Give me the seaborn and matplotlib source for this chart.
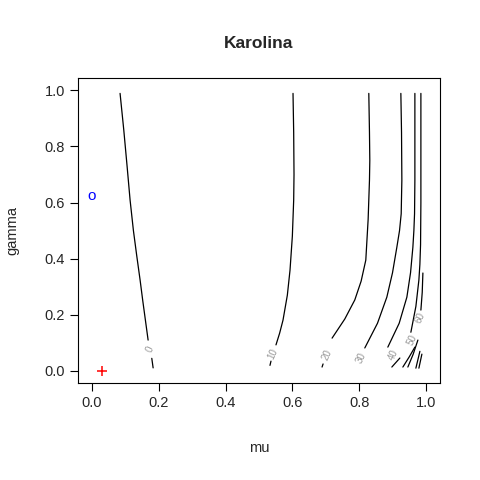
import numpy as np
import pandas as pd
import seaborn as sns
import matplotlib
matplotlib.use("Agg")
import matplotlib.pyplot as plt

# contour lines: level -> segments of (mu, gamma)
contour_mu = {
    "0":  [[0.084, 0.095, 0.105, 0.114, 0.124, 0.134, 0.144, 0.152, 0.160, 0.168], [0.179, 0.183]],
    "10": [[0.602, 0.604, 0.605, 0.604, 0.600, 0.593, 0.585, 0.572, 0.562, 0.551], [0.536, 0.533]],
    "20": [[0.829, 0.831, 0.832, 0.831, 0.827, 0.820, 0.806, 0.787, 0.757, 0.719], [0.692, 0.689]],
    "30": [[0.925, 0.927, 0.928, 0.926, 0.921, 0.913, 0.900, 0.883, 0.855, 0.817]],
    "40": [[0.967, 0.967, 0.967, 0.966, 0.964, 0.961, 0.954, 0.943, 0.920, 0.886], [0.898, 0.922]],
    "50": [[0.985, 0.985, 0.985, 0.984, 0.982, 0.979, 0.970, 0.955], [0.931, 0.950, 0.967]],
    "60": [[0.991, 0.989, 0.985], [0.946, 0.962, 0.976]],
    "70": [[0.970, 0.982]],
    "80": [[0.979, 0.988]],
}
contour_gamma = {
    "0":  [[0.989, 0.860, 0.730, 0.609, 0.500, 0.410, 0.324, 0.250, 0.180, 0.110], [0.045, 0.011]],
    "10": [[0.989, 0.850, 0.700, 0.609, 0.480, 0.359, 0.270, 0.181, 0.135, 0.093], [0.035, 0.020]],
    "20": [[0.989, 0.850, 0.750, 0.680, 0.540, 0.395, 0.320, 0.253, 0.185, 0.117], [0.025, 0.014]],
    "30": [[0.989, 0.850, 0.680, 0.560, 0.500, 0.441, 0.350, 0.263, 0.170, 0.082]],
    "40": [[0.989, 0.850, 0.680, 0.560, 0.500, 0.441, 0.350, 0.263, 0.170, 0.085], [0.014, 0.046]],
    "50": [[0.989, 0.800, 0.600, 0.450, 0.380, 0.324, 0.230, 0.138], [0.014, 0.050, 0.085]],
    "60": [[0.349, 0.280, 0.217], [0.014, 0.060, 0.110]],
    "70": [[0.010, 0.070]],
    "80": [[0.010, 0.060]],
}
label_mu = [0.174, 0.541, 0.704, 0.806, 0.904, 0.958, 0.982]
label_gamma = [0.077, 0.060, 0.057, 0.045, 0.057, 0.110, 0.190]
label_text = ["0", "10", "20", "30", "40", "50", "60"]

start_mu, start_gamma = [0.0], [0.623]
est_mu, est_gamma = [0.03], [0.0]

rows = []
for lev in contour_mu:
    for s, (xs, ys) in enumerate(zip(contour_mu[lev], contour_gamma[lev])):
        for x, y in zip(xs, ys):
            rows.append({"line": f"{lev}_{s}", "mu": x, "gamma": y})
df = pd.DataFrame(rows)

sns.set_style("ticks")
plt.rcParams["font.family"] = ["Liberation Sans", "DejaVu Sans"]
fig = plt.figure(figsize=(4.8, 4.8), dpi=100)
ax = fig.add_axes([0.1625, 0.202, 0.754, 0.635])

sns.lineplot(data=df, x="mu", y="gamma", units="line", estimator=None,
             sort=False, color="black", linewidth=0.9, ax=ax)
for x, y, t in zip(label_mu, label_gamma, label_text):
    ax.text(x, y, t, fontsize=7, color="#999999", rotation=65,
            ha="center", va="center")
ax.text(start_mu[0], start_gamma[0], "o", color="blue", fontsize=11,
        ha="center", va="center")
ax.scatter(est_mu, est_gamma, marker="+", color="red", s=45, linewidths=1.1)

ax.set_xlim(-0.042, 1.042)
ax.set_ylim(-0.043, 1.043)
ax.set_xticks(np.arange(0, 1.01, 0.2))
ax.set_yticks(np.arange(0, 1.01, 0.2))
ax.set_xticklabels([f"{v:.1f}" for v in np.arange(0, 1.01, 0.2)])
ax.set_yticklabels([f"{v:.1f}" for v in np.arange(0, 1.01, 0.2)])
ax.tick_params(labelsize=10.5, direction="out", length=6, color="black")
for sp in ax.spines.values():
    sp.set_color("black")
    sp.set_linewidth(0.8)
ax.set_xlabel("mu", fontsize=10.5, labelpad=22)
ax.set_ylabel("gamma", fontsize=10.5, labelpad=18)
ax.set_title("Karolina", fontsize=12.5, fontweight="bold", pad=22)

fig.savefig("out.png", dpi=100)
